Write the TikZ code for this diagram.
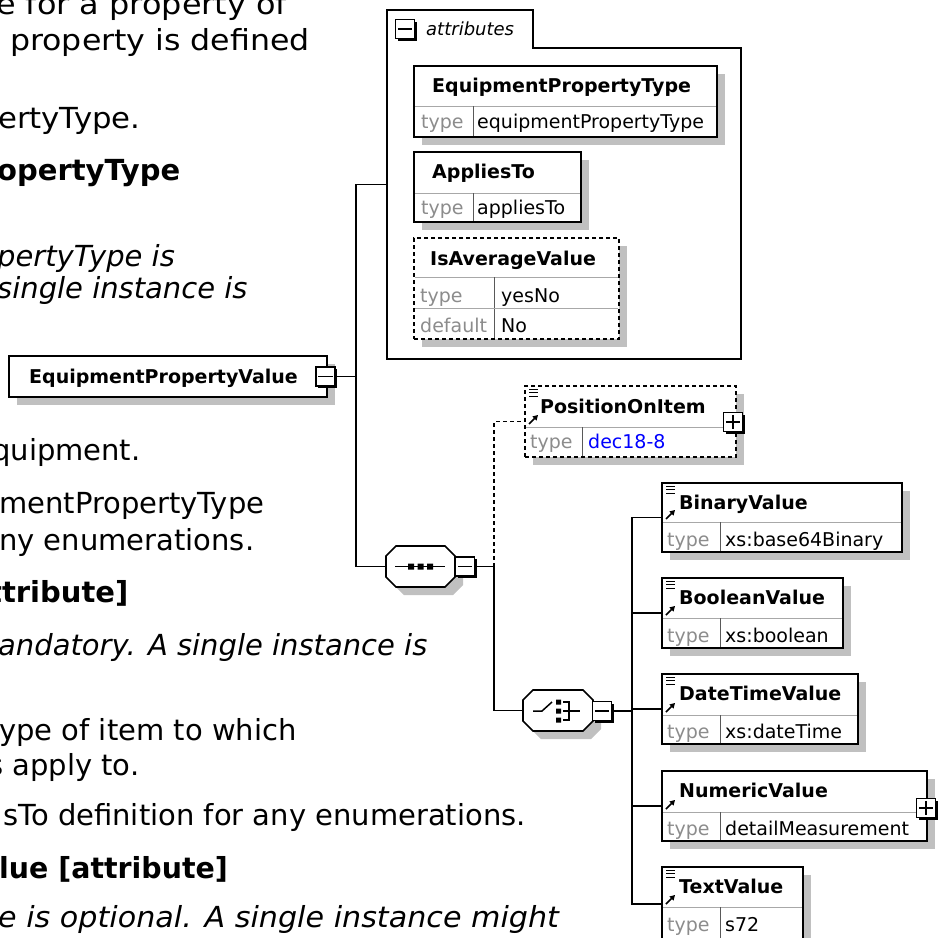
\documentclass[tikz,border=0pt]{standalone}
\usepackage{graphicx}
\usepackage{fontspec}
\setmainfont{DejaVu Sans}
\usetikzlibrary{arrows.meta,shadows}
\definecolor{shgray}{HTML}{C0C0C0}
\definecolor{typegray}{HTML}{8C8C8C}
\definecolor{divgray}{HTML}{A8A8A8}
\definecolor{lnk}{HTML}{0000FF}

\newcommand\xelem[8]{%
  \node[elbox,#8,minimum width={#4-#2},minimum height={#5-#3}] (#1) at ({(#2+#4)/2},{(#3+#5)/2}) {};
  \draw[divh] (#2+1,#6) -- (#4-1,#6);
  \draw[divv] (#7,#6) -- (#7,#5-1);
}
\newcommand\octo[4]{%
  \fill[shgray] (#1+18,#2+8) -- (#3-2,#2+8) -- (#3+8,#2+18) -- (#3+8,#4-2) -- (#3-2,#4+8) -- (#1+18,#4+8) -- (#1+8,#4-2) -- (#1+8,#2+18) -- cycle;
  \draw[line width=1.6, fill=white] (#1+10,#2) -- (#3-10,#2) -- (#3,#2+10) -- (#3,#4-10) -- (#3-10,#4) -- (#1+10,#4) -- (#1,#4-10) -- (#1,#2+10) -- cycle;}
\newcommand\docicon[2]{\draw[line width=0.9] (#1+4,#2+3) -- (#1+13,#2+3) (#1+4,#2+6.5) -- (#1+13,#2+6.5) (#1+4,#2+10) -- (#1+13,#2+10);}
\newcommand\reficon[2]{\draw[line width=1.7,-{Triangle[length=5pt,width=5.5pt]}] (#1+4,#2-3) -- (#1+13,#2-12);}
\newcommand\minussign[1]{\draw[line width=1.4] ([xshift=3pt]#1.west) -- ([xshift=-3pt]#1.east);}
\newcommand\plussign[1]{\draw[line width=1.4] ([xshift=3pt]#1.west) -- ([xshift=-3pt]#1.east) ([yshift=-3pt]#1.north) -- ([yshift=3pt]#1.south);}

\begin{document}
\begin{tikzpicture}[x=1pt,y=-1pt,
  conn/.style={line width=1.8},
  dconn/.style={line width=1.8, dash pattern=on 4pt off 3pt},
  elbox/.style={draw, fill=white, line width=1.8, inner sep=0, general shadow={fill=shgray, shadow xshift=8pt, shadow yshift=-8pt}},
  dashbox/.style={dash pattern=on 4pt off 3pt},
  divh/.style={draw=divgray, line width=1},
  divv/.style={draw=black!65, line width=1},
  ttl/.style={anchor=base west, inner sep=0, font=\fontsize{19}{22}\selectfont\bfseries},
  key/.style={anchor=base west, inner sep=0, text=typegray, font=\fontsize{19}{22}\selectfont},
  val/.style={anchor=base west, inner sep=0, font=\fontsize{19}{22}\selectfont},
  body/.style={anchor=base west, inner sep=0, font=\fontsize{29}{35}\selectfont},
  bodyb/.style={body, font=\fontsize{29}{35}\selectfont\bfseries},
  bodyi/.style={body, font=\fontsize{29}{35}\selectfont\itshape},
  btn/.style={draw, fill=white, line width=1.3, minimum size=19, inner sep=0, general shadow={fill=black, shadow xshift=2pt, shadow yshift=-2pt}},
  hid/.style={inner sep=0, outer sep=0}]
\useasboundingbox (0,0) rectangle (939,937);
\fill[white] (0,0) rectangle (939,937);

% ---- body text (cut off at the left) ----
\node[body]  (l1)  at (-4,14)  {\scalebox{1.1}[1]{e for a property of}};
\node[body]  (l2)  at (10,50)  {\scalebox{1.09}[1]{property is defined}};
\node[body]  (l3)  at (-2,128) {\scalebox{1.06}[1]{ertyType.}};
\node[bodyb] (l4)  at (-3,180) {opertyType};
\node[bodyi] (l5)  at (-3,266) {pertyType is};
\node[bodyi] (l6)  at (-3,298) {single instance is};
\node[body]  (l7)  at (-8,460) {quipment.};
\node[body]  (l8)  at (-1,513) {mentPropertyType};
\node[body]  (l9)  at (-1,550) {ny enumerations.};
\node[bodyb] (l10) at (-12,602) {ttribute]};
\node[bodyi] (l11) at (-2,655) {andatory. A single instance is};
\node[body]  (l12) at (-1,740) {ype of item to which};
\node[body]  (l13) at (-12,775) {s apply to.};
\node[body]  (l14) at (3,825)  {sTo definition for any enumerations.};
\node[bodyb] (l15) at (-1,878) {\scalebox{0.98}[1]{lue [attribute]}};
\node[bodyi] (l16) at (-2,927) {\scalebox{1.04}[1]{e is optional. A single instance might}};

% ---- attributes group ----
\node[hid, minimum width=354, minimum height=349] (attrs) at (564,184.5) {};
\draw[line width=1.6] (387,359) -- (387,10) -- (533,10) -- (533,48) -- (741,48) -- (741,359) -- cycle;
\node[btn] (attB) at (405,29) {};
\minussign{attB}
\node[anchor=base west, inner sep=0, font=\fontsize{18}{20}\selectfont\itshape] (attT) at (426,35) {attributes};

\xelem{ept}{414}{66}{717}{137}{106}{473}{}
\node[ttl] (eptT) at (432,92) {EquipmentPropertyType};
\node[key] (eptK) at (421,128) {type};
\node[val] (eptV) at (477,128) {equipmentPropertyType};

\xelem{app}{414}{152}{581}{222}{193}{473}{}
\node[ttl] (appT) at (432,178) {AppliesTo};
\node[key] (appK) at (421,214) {type};
\node[val] (appV) at (477,214) {appliesTo};

\xelem{iav}{414}{238}{619}{339}{277}{494}{dashbox}
\draw[divh] (415,308) -- (618,308);
\node[ttl] (iavT) at (430,265) {IsAverageValue};
\node[key] (iavK) at (420,302) {type};
\node[val] (iavV) at (501,302) {yesNo};
\node[key] (iavK2) at (420,332) {default};
\node[val] (iavV2) at (501,332) {No};

% ---- root element ----
\node[elbox, minimum width=318, minimum height=41] (epv) at (168,376.5) {};
\node[anchor=base, inner sep=0, font=\fontsize{19}{22}\selectfont\bfseries] (epvT) at (163.5,383) {EquipmentPropertyValue};
\node[btn] (epvB) at (325.5,376.5) {};
\minussign{epvB}

% ---- sequence compositor ----
\node[hid, minimum width=69, minimum height=41] (seq) at (420.5,566.5) {};
\octo{386}{546}{455}{587}
\draw[line width=1.5] (395,566.5) -- (445,566.5);
\fill (408,563.5) rectangle (414,569.5) (417.5,563.5) rectangle (423.5,569.5) (427,563.5) rectangle (433,569.5);
\node[btn] (seqB) at (465,566.5) {};
\minussign{seqB}

% ---- PositionOnItem ----
\xelem{pos}{525}{386}{736}{457}{427}{582}{dashbox}
\docicon{525}{386}
\reficon{525}{427}
\node[ttl] (posT) at (540,413) {PositionOnItem};
\node[key] (posK) at (530,448) {type};
\node[val, text=lnk] (posV) at (588,448) {dec18-8};
\node[btn] (posB) at (733,422) {};
\plussign{posB}

% ---- choice compositor ----
\node[hid, minimum width=70, minimum height=41] (cho) at (558,710.5) {};
\octo{523}{690}{593}{731}
\draw[line width=1.5] (533,711) -- (542,711) -- (552,702);
\fill (556,699.5) rectangle (561,704.5) (556,708.5) rectangle (561,713.5) (556,717.5) rectangle (561,722.5);
\draw[line width=1.3] (563,702) -- (569,702) -- (569,720) -- (563,720) (563,711) -- (580,711);
\node[btn] (choB) at (602,711) {};
\minussign{choB}

% ---- choice children ----
\xelem{bin}{662}{483}{902}{552}{522}{720}{}
\docicon{662}{483}\reficon{662}{522}
\node[ttl] (binT) at (679,509) {BinaryValue};
\node[key] (binK) at (667,546) {type};
\node[val] (binV) at (725,546) {xs:base64Binary};

\xelem{boo}{662}{578}{843}{648}{618}{720}{}
\docicon{662}{578}\reficon{662}{618}
\node[ttl] (booT) at (679,604) {BooleanValue};
\node[key] (booK) at (667,642) {type};
\node[val] (booV) at (725,642) {xs:boolean};

\xelem{dtv}{662}{674}{858}{744}{715}{720}{}
\docicon{662}{674}\reficon{662}{715}
\node[ttl] (dtvT) at (679,700) {DateTimeValue};
\node[key] (dtvK) at (667,738) {type};
\node[val] (dtvV) at (725,738) {xs:dateTime};

\xelem{num}{662}{771}{927}{841}{812}{720}{}
\reficon{662}{812}
\node[ttl] (numT) at (679,797) {NumericValue};
\node[key] (numK) at (667,835) {type};
\node[val] (numV) at (725,835) {detailMeasurement};
\node[btn] (numB) at (926,808) {};
\plussign{numB}

\xelem{txv}{662}{867}{803}{941}{907}{720}{}
\docicon{662}{867}\reficon{662}{907}
\node[ttl] (txvT) at (679,893) {TextValue};
\node[key] (txvK) at (667,931) {type};
\node[val] (txvV) at (725,931) {s72};

% ---- connectors ----
\coordinate (j1) at (356,376.5);
\coordinate (j2) at (494,566.5);
\coordinate (j3) at (632,711);
\draw[conn] (epvB.east) -- (j1);
\draw[conn] (attrs.west) -| (j1) |- (seq.west);
\draw[conn] (seqB.east) -- (j2);
\draw[dconn] (j2) |- (pos.west);
\draw[conn] (j2) |- (cho.west);
\draw[conn] (choB.east) -- (j3);
\draw[conn] (bin.west) -| (j3) |- (txv.west);
\draw[conn] (j3) |- (boo.west);
\draw[conn] (j3) |- (dtv.west);
\draw[conn] (j3) |- (num.west);
\end{tikzpicture}
\end{document}
